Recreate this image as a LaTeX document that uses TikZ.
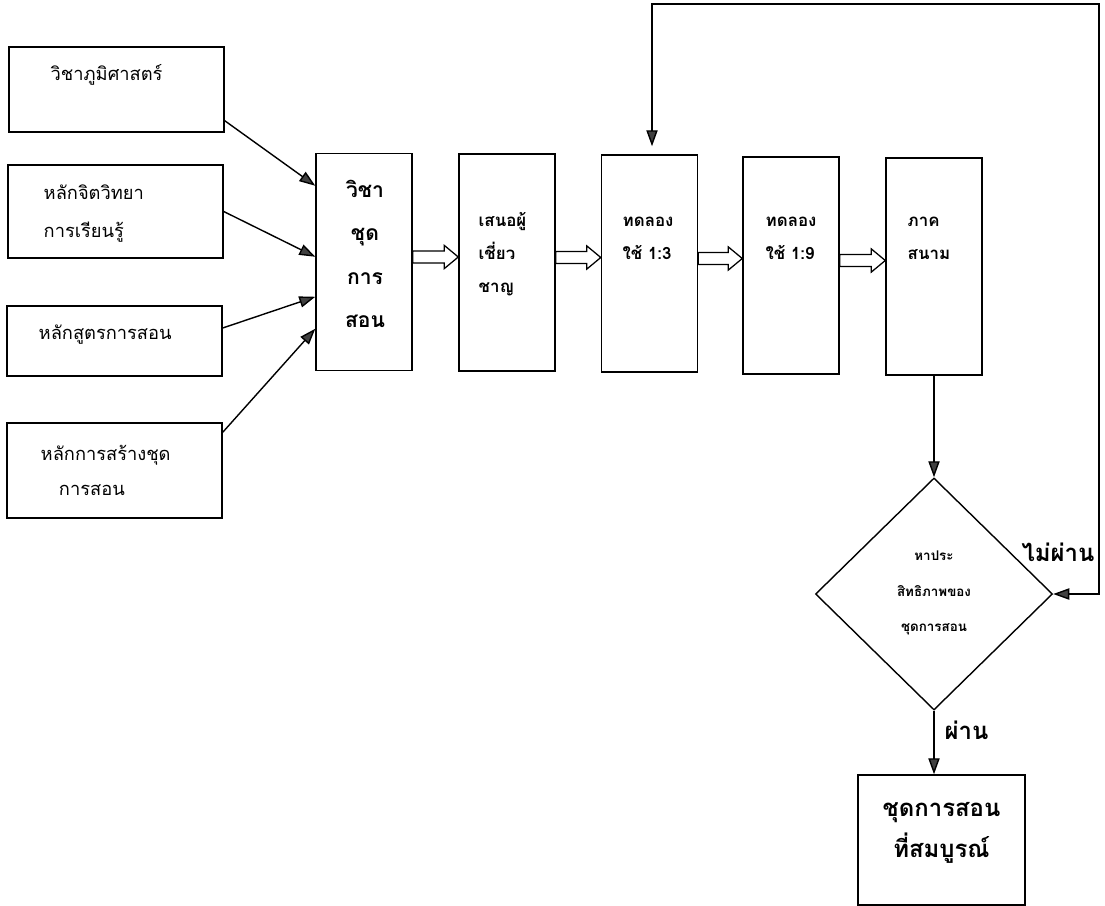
\documentclass[tikz,border=0pt]{standalone}
\usepackage{fontspec}
\setmainfont[Script=Thai]{Loma}
\usepackage{tikz}
\usetikzlibrary{shapes.geometric,arrows.meta,positioning,calc}

% hollow block arrow between two boxes
\newcommand{\hollowarrow}[2]{%
  \draw[line width=0.9pt, fill=white] let \p1=([yshift=0.125cm]#1.east), \p2=([yshift=0.125cm]#2.west) in
    (\x1,\y1+0.15cm) -- (\x2-0.35cm,\y1+0.15cm) -- (\x2-0.35cm,\y1+0.29cm) -- (\x2,\y1)
    -- (\x2-0.35cm,\y1-0.29cm) -- (\x2-0.35cm,\y1-0.15cm) -- (\x1,\y1-0.15cm) -- cycle;}

\begin{document}
\begin{tikzpicture}[x=0.025cm, y=-0.025cm, line width=1pt,
    every node/.style={font=\fontsize{13}{26}\selectfont},
    srcbox/.style={draw, minimum width=5.375cm, inner sep=0pt},
    stepbox/.style={draw, minimum width=2.4cm, minimum height=5.425cm, inner sep=0pt},
    steptext/.style={anchor=west, align=left, inner sep=0pt, font=\bfseries\fontsize{12}{23.5}\selectfont},
    arr/.style={-{Triangle[length=4mm,width=2.8mm,fill=black!75]}}]
    \useasboundingbox (0,0) rectangle (1105,906);

    % Input boxes
    \node[srcbox, minimum height=2.125cm] (L1) at (116.5,89.5) {};
    \node[srcbox, minimum height=2.325cm] (L2) at (115.5,211.5) {};
    \node[srcbox, minimum height=1.75cm]  (L3) at (114.5,341) {};
    \node[srcbox, minimum height=2.375cm] (L4) at (114.5,470.5) {};
    \node[anchor=west, inner sep=0pt] (t1) at (50,75) {วิชาภูมิศาสตร์};
    \node[anchor=west, inner sep=0pt, align=left, font=\fontsize{13}{27}\selectfont] (t2) at (43,214) {หลักจิตวิทยา\\การเรียนรู้};
    \node[anchor=west, inner sep=0pt] (t3) at (38,335) {หลักสูตรการสอน};
    \node[anchor=west, inner sep=0pt, align=left, font=\fontsize{13}{25}\selectfont] (t4) at (40,470.5) {หลักการสร้างชุด\\\hspace{13pt}การสอน};

    % Main steps
    \node[stepbox] (M1) at (364,262) {};
    \node[stepbox] (M2) at (507,262.5) {};
    \node[stepbox] (M3) at (649.5,263.5) {};
    \node[stepbox] (M4) at (791,265.5) {};
    \node[stepbox] (M5) at (934,266.5) {};
    \node[inner sep=0pt, align=center, font=\bfseries\fontsize{15}{31}\selectfont] (s1) at (365,254) {วิชา\\ชุด\\การ\\สอน};
    \node[steptext] (s2) at (478,254.5) {เสนอผู้\\เชี่ยว\\ชาญ};
    \node[steptext] (s3) at (622,238.5) {ทดลอง\\ใช้ 1:3};
    \node[steptext] (s4) at (765,238.5) {ทดลอง\\ใช้ 1:9};
    \node[steptext] (s5) at (907,238.5) {ภาค\\สนาม};

    % Decision and result
    \node[draw, shape=diamond, minimum width=5.925cm, minimum height=5.8cm, inner sep=0pt] (D) at (934,594) {};
    \node[inner sep=0pt, align=center, font=\bfseries\fontsize{9.5}{25.5}\selectfont] (d1) at (934,593) {หาประ\\สิทธิภาพของ\\ชุดการสอน};
    \node[draw, minimum width=4.175cm, minimum height=3.25cm, inner sep=0pt] (F) at (941.5,840) {};
    \node[inner sep=0pt, align=center, font=\bfseries\fontsize{17}{29}\selectfont] (f1) at (941.5,832.5) {ชุดการสอน\\ที่สมบูรณ์};
    \node[inner sep=0pt, font=\bfseries\fontsize{17}{20}\selectfont] (no) at (1058,552) {ไม่ผ่าน};
    \node[anchor=west, inner sep=0pt, font=\bfseries\fontsize{17}{20}\selectfont] (yes) at (944,730) {ผ่าน};

    % Inputs into first step
    \draw[arr] ($(L1.south east)+(0,-12)$) -- ($(M1.north west)+(0,33)$);
    \draw[arr] (L2.east) -- ($(M1.north west)+(0,104)$);
    \draw[arr] ($(L3.east)+(0,-13)$) -- ($(M1.north west)+(0,144)$);
    \draw[arr] ($(L4.north east)+(0,10)$) -- ($(M1.north west)+(0,176)$);

    % Block arrows
    \hollowarrow{M1}{M2}
    \hollowarrow{M2}{M3}
    \hollowarrow{M3}{M4}
    \hollowarrow{M4}{M5}

    % Flow to decision
    \draw[arr] (M5.south) -- (D.north);
    \draw[arr] (D.south) -- (D.south |- F.north);

    % Feedback loop
    \coordinate (fbR) at (1099,4);
    \coordinate (fbL) at (652,4);
    \draw[{Triangle[length=4mm,width=2.8mm,fill=black!75]}-{Triangle[length=4mm,width=2.8mm,fill=black!75]}]
        (D.east) -| (fbR) -- (fbL) -- ($(fbL |- M3.north)+(0,-8)$);
\end{tikzpicture}
\end{document}
